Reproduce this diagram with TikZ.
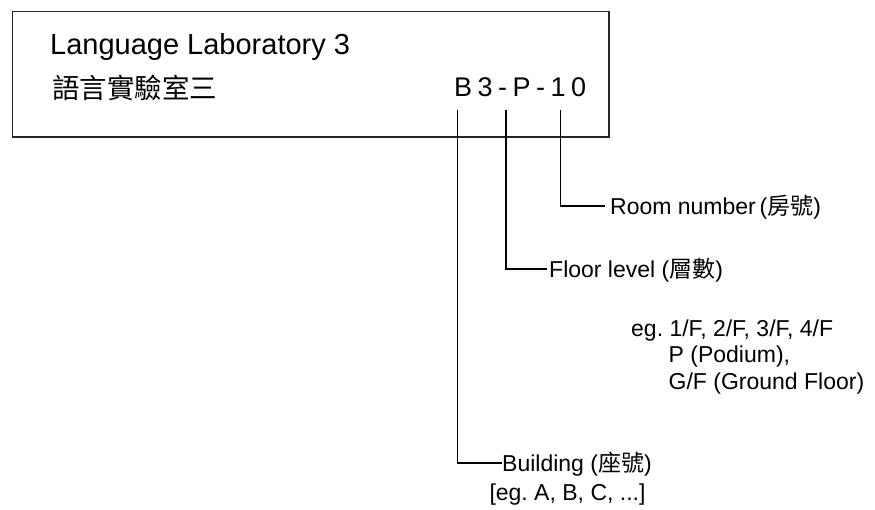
\documentclass[tikz,border=0pt]{standalone}
\usepackage{fontspec}
\setmainfont{Liberation Sans}
\newfontfamily\cjk{Noto Sans CJK TC}
\usetikzlibrary{positioning}
\frenchspacing

\begin{document}
\begin{tikzpicture}[x=1pt,y=-1pt,
  big/.style={font=\fontsize{29}{33}\selectfont,inner sep=0pt,anchor=west,text height=20.8pt,text depth=0pt},
  lbl/.style={font=\fontsize{23}{27}\selectfont,inner sep=0pt,anchor=west,text height=16.5pt,text depth=0pt},
  conn/.style={line width=1.3pt}]
 \useasboundingbox (0,0) rectangle (875,510);
 % sign plate
 \draw[line width=1.4pt,black!85] (12.7,11.7) rectangle (609,137);
 \node[big] (title) at (50,44.5) {Language Laboratory 3};
 \node[big,font=\fontsize{27.5}{33}\selectfont,text height=21pt] (zh) at (52,88) {\cjk 語言實驗室三};
 \node[big,font=\fontsize{27}{33}\selectfont,text height=19.3pt] (code) at (454,87)
   {B\kern5.5pt 3\kern5.5pt -\kern5.5pt P\kern5.5pt -\kern5.5pt 1\kern5.5pt 0};
 % code parts
 \coordinate (topB) at (457.7,110);
 \coordinate (topP) at (506,110);
 \coordinate (topN) at (560.7,110);
 \node[lbl] (room) at (610,206) {Room number\,({\cjk 房號})};
 \node[lbl] (floor) at (549,269) {Floor level ({\cjk 層數})};
 \node[lbl] (eg1) at (631,328) {eg. 1/F, 2/F, 3/F, 4/F};
 \node[lbl] (eg2) at (668.5,354) {P (Podium),};
 \node[lbl] (eg3) at (668.5,381) {G/F (Ground Floor)};
 \node[lbl] (bldg) at (502,463) {Building ({\cjk 座號})};
 \node[lbl] (bldgeg) at (489.3,492) {[eg. A, B, C, ...]};
 \draw[conn,shorten >=5pt] (topN) |- (room.west);
 \draw[conn,shorten >=2pt] (topP) |- (floor.west);
 \draw[conn] (topB) |- (bldg.west);
\end{tikzpicture}
\end{document}
